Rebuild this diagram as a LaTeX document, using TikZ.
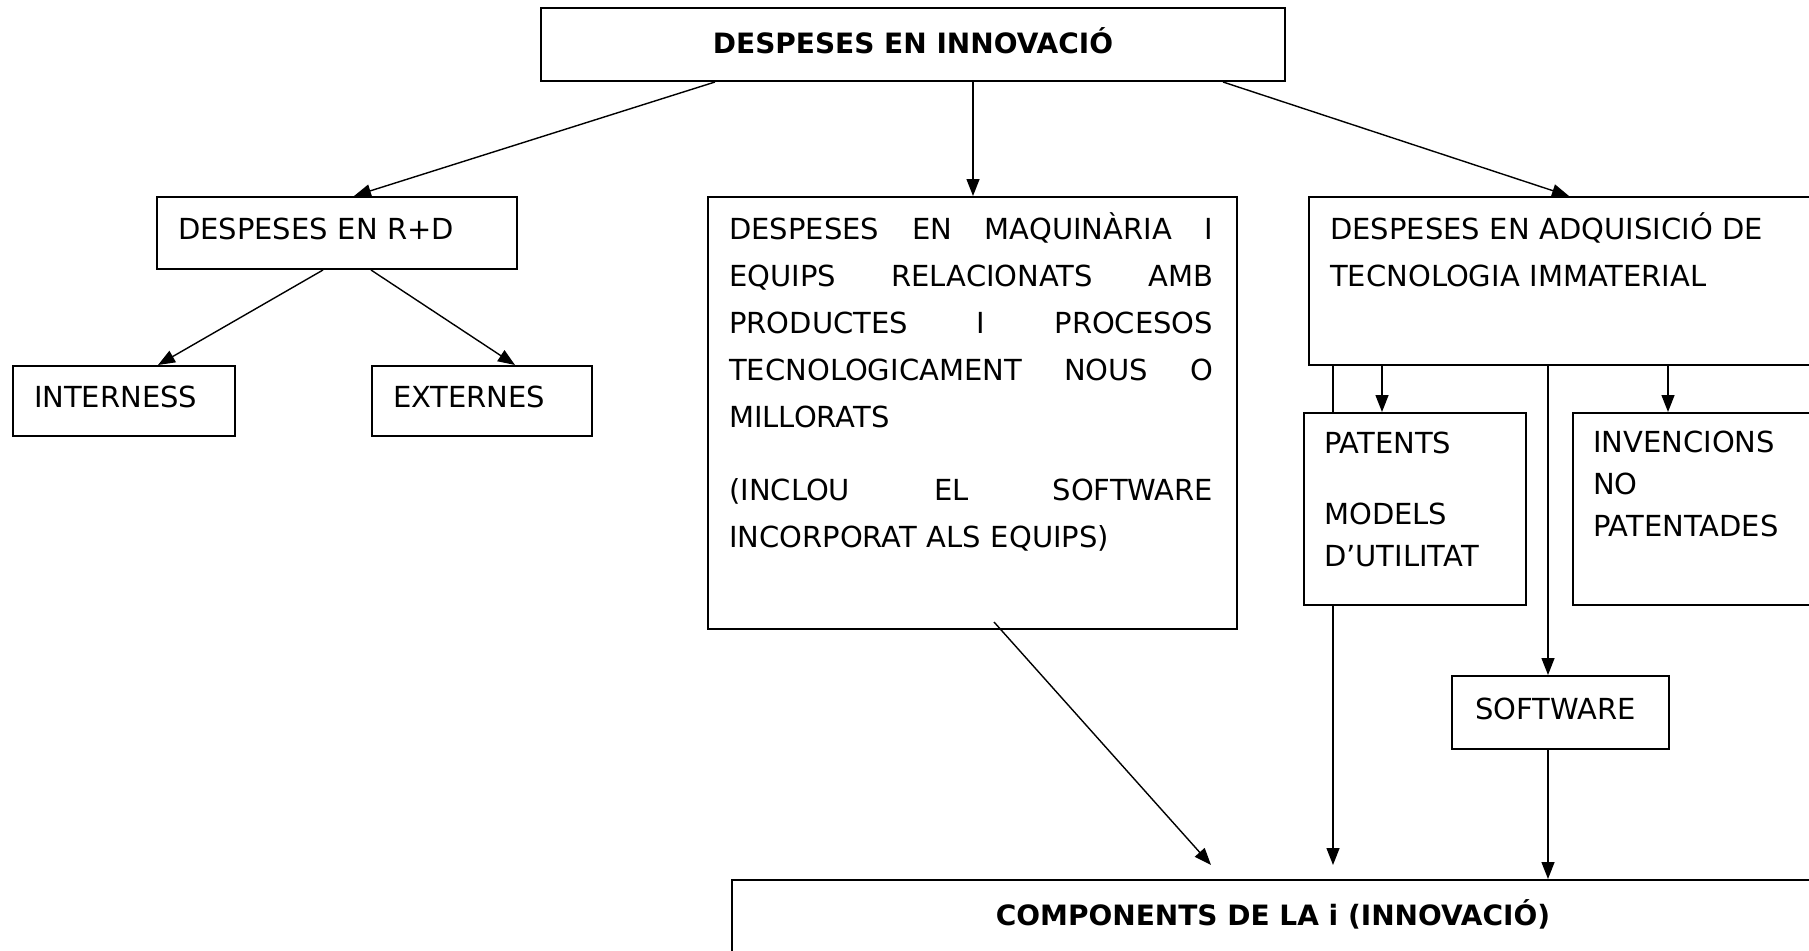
\documentclass[tikz,border=0pt]{standalone}
\usepackage{fontspec}
\setmainfont{DejaVu Sans}
\usetikzlibrary{arrows.meta, positioning, calc}
\newcommand{\lletra}{\fontsize{29}{47}\selectfont}
\newcommand{\lletrapetita}{\fontsize{29}{42}\selectfont}
\newcommand{\titol}{\fontsize{28}{34}\selectfont\bfseries}

\begin{document}
\begin{tikzpicture}[
    x=1pt, y=-1pt,
    caixa/.style={draw, line width=2pt, fill=white, inner sep=0pt, anchor=north west},
    caixatext/.style={caixa, inner xsep=21pt, text width=#1, align=left, text depth=8pt, font=\lletra},
    etiq/.style={text width=#1, align=left, inner sep=0pt, anchor=base west, font=\lletra},
    fletxa/.style={-{Triangle[length=17pt, width=13pt]}, line width=1.4pt},
    linia/.style={line width=1.4pt}
  ]
    \path[use as bounding box, fill=white] (0,0) rectangle (1809,950);

    % caixes
    \node[caixa, minimum width=744pt, minimum height=73pt, text depth=8pt, font=\titol] (desp) at (540,7)
      {DESPESES EN INNOVACIÓ};
    \node[caixatext=318pt, minimum width=360pt, minimum height=72pt] (rd) at (156,196)
      {DESPESES EN R+D};
    \node[caixatext=180pt, minimum width=222pt, minimum height=70pt] (intern) at (12,365)
      {INTERNESS};
    \node[caixatext=178pt, minimum width=220pt, minimum height=70pt] (extern) at (371,365)
      {EXTERNES};

    \node[caixa, minimum width=529pt, minimum height=432pt] (maq) at (707,196) {};
    \node[etiq=484pt] (maqtext) at ([xshift=22pt, yshift=-43pt]maq.north west)
      {DESPESES\hfill EN\hfill MAQUINÀRIA\hfill I\\
       EQUIPS\hfill RELACIONATS\hfill AMB\\
       PRODUCTES\hfill I\hfill PROCESOS\\
       TECNOLOGICAMENT\hfill NOUS\hfill O\\
       MILLORATS\\[26pt]
       (INCLOU\hfill EL\hfill SOFTWARE\\
       INCORPORAT ALS EQUIPS)};

    \node[caixa, minimum width=540pt, minimum height=168pt] (adq) at (1308,196) {};
    \node[etiq=480pt] (adqtext) at ([xshift=22pt, yshift=-43pt]adq.north west)
      {DESPESES EN ADQUISICIÓ DE\\TECNOLOGIA IMMATERIAL};

    \node[caixa, minimum width=222pt, minimum height=192pt] (pat) at (1303,412) {};
    \node[etiq=180pt, font=\lletrapetita] (pattext) at ([xshift=21pt, yshift=-41pt]pat.north west)
      {PATENTS\\[29pt] MODELS\\ D’UTILITAT};

    \node[caixa, minimum width=260pt, minimum height=192pt] (inv) at (1572,412) {};
    \node[etiq=220pt, font=\lletrapetita] (invtext) at ([xshift=21pt, yshift=-40pt]inv.north west)
      {INVENCIONS\\ NO\\ PATENTADES};

    \node[caixatext=171pt, inner xsep=23pt, minimum width=217pt, minimum height=73pt] (soft) at (1451,675)
      {SOFTWARE};

    \node[caixa, minimum width=1082pt, minimum height=120pt] (comp) at (731,879) {};
    \node[font=\titol] (comptext) at ([yshift=-35pt]comp.north)
      {COMPONENTS DE LA i (INNOVACIÓ)};

    % columnes de les fletxes verticals
    \coordinate (xa) at (1333,0);
    \coordinate (xp) at (1382,0);
    \coordinate (xs) at (1548,0);
    \coordinate (xi) at (1668,0);

    % fletxes
    \draw[fletxa] ($(desp.south west)+(175,0)$) -- ($(rd.north west)+(198,0)$);
    \draw[fletxa] ($(desp.south west)+(433,0)$) -- ($(maq.north west)+(266,0)$);
    \draw[fletxa] ($(desp.south west)+(683,0)$) -- ($(adq.north west)+(261,0)$);
    \draw[fletxa] ($(rd.south west)+(167,0)$) -- ($(intern.north west)+(146,0)$);
    \draw[fletxa] ($(rd.south west)+(215,0)$) -- ($(extern.north west)+(144,0)$);

    \draw[linia] (xa |- adq.south) -- (xa |- pat.north);
    \draw[fletxa, shorten >=14pt] (xa |- pat.south) -- (xa |- comp.north);
    \draw[fletxa] (xp |- adq.south) -- (xp |- pat.north);
    \draw[fletxa] (xs |- adq.south) -- (xs |- soft.north);
    \draw[fletxa] (xi |- adq.south) -- (xi |- inv.north);
    \draw[fletxa] (xs |- soft.south) -- (xs |- comp.north);
    \draw[fletxa] ($(maq.south west)+(287,-8)$) -- ($(comp.north west)+(480,-14)$);
  \end{tikzpicture}
\end{document}
